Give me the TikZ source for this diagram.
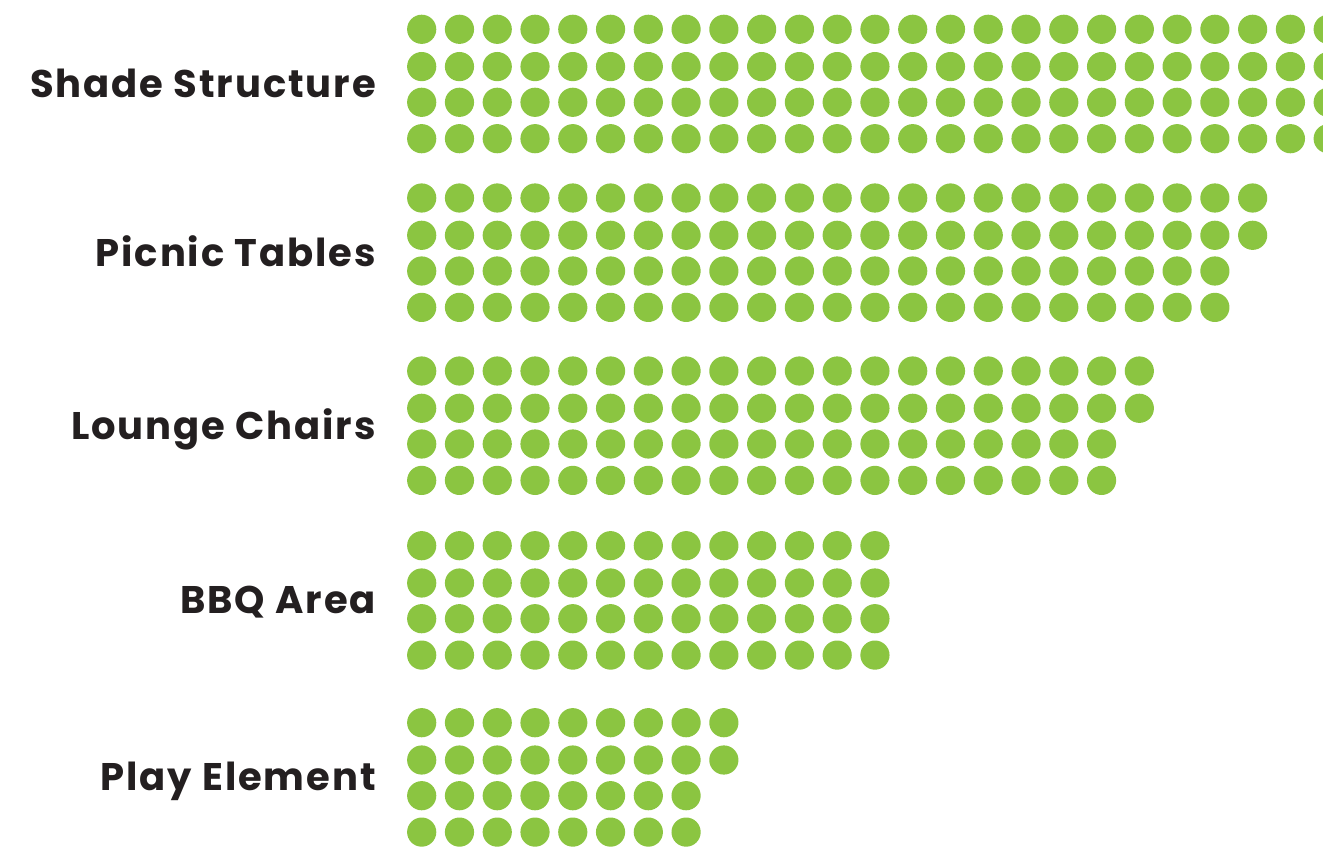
\documentclass[tikz,border=0pt]{standalone}
\usepackage{fontspec}
\setsansfont{Poppins}[LetterSpace=5]
\definecolor{dotgreen}{HTML}{8BC541}
\definecolor{labelink}{HTML}{231F20}
\tikzset{
  lbl/.style={anchor=base east,inner sep=0pt,text=labelink,
    font=\sffamily\bfseries\fontsize{38.5}{46}\selectfont},
  dot/.style={fill=dotgreen}
}

\begin{document}
\begin{tikzpicture}[x=1pt,y=-1pt]

\useasboundingbox (0,0) rectangle (1323,850);
\clip (0,0) rectangle (1323,850);

% one group per category: name / top row / dots in rows 1-2 / dots in rows 3-4 / label
\foreach \nm/\top/\na/\nb/\txt in {shade/29.3/26/26/Shade Structure,
    picnic/198/23/22/Picnic Tables,
    lounge/371/20/19/Lounge Chairs,
    bbq/545.7/13/13/BBQ Area,
    play/722.7/9/8/Play Element}{
  %dots
  \foreach \dy/\n in {0/\na,37.3/\na,73/\nb,109.4/\nb}
    \foreach \i in {1,...,\n}
      \fill[dot] ({421.7+37.77*(\i-1)},{\top+\dy}) circle (14.6);
  %label
  \node[lbl] (\nm) at (376,{\top+54.7+13.5}) {\txt};
}

\end{tikzpicture}
\end{document}
